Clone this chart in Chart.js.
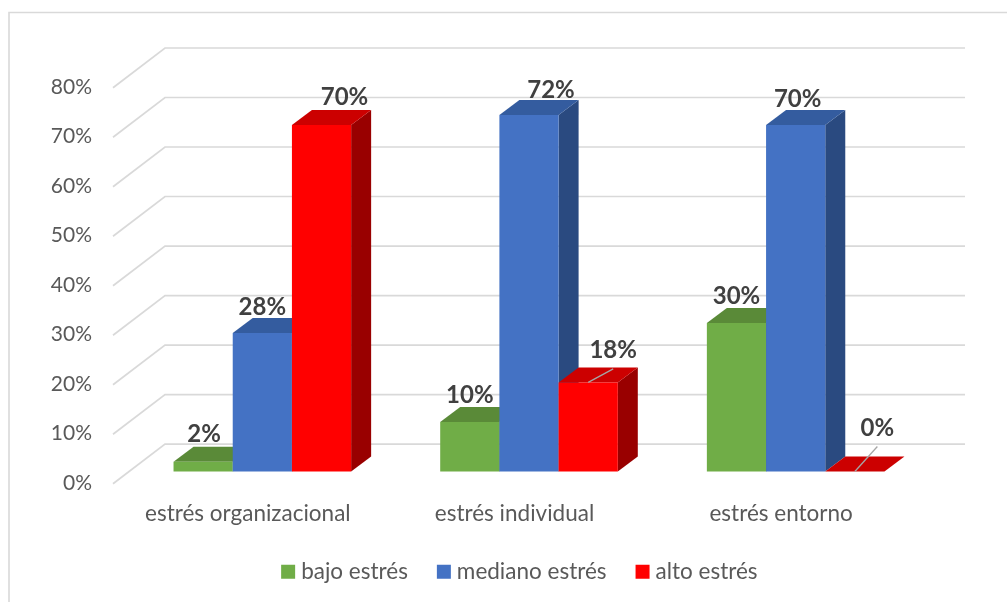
<!DOCTYPE html>
<html lang="es">
<head>
<meta charset="utf-8">
<title>Niveles de estrés</title>
<style>
  html, body { margin: 0; padding: 0; background: #ffffff; }
  canvas { display: block; }
</style>
<script src="https://cdn.jsdelivr.net/npm/chart.js@4/dist/chart.umd.min.js"></script>
</head>
<body>
<canvas id="chart" width="1007" height="602"></canvas>
<script>
const categories = ["estrés organizacional", "estrés individual", "estrés entorno"];
const seriesNames = ["bajo estrés", "mediano estrés", "alto estrés"];
const bajoEstres = [2, 10, 30];
const medianoEstres = [28, 72, 70];
const altoEstres = [70, 18, 0];
const tickLabels = ["0%", "10%", "20%", "30%", "40%", "50%", "60%", "70%", "80%"];

// Face colours for each series: front, top, side.
const faces = [
  { front: "#70AD47", top: "#5A8A38", side: "#43682B" },
  { front: "#4472C4", top: "#345C9F", side: "#2A4A80" },
  { front: "#FF0000", top: "#CC0000", side: "#990000" }
];

// Depth of a bar and of the floor, in pixels.
const barDepth = { x: 20, y: 15 };
const wall = { backX: 36, backY: 27.5, frontX: -16, frontY: 12.2 };

// Data label nudges from the centre of each bar's top edge, per series and category.
const labelShift = [
  [[1, -27], [0, -27], [0, -27]],
  [[0, -26], [22, -25], [2, -26]],
  [[23, -28], [25, -32], [22.5, -43]]
];
// Leader lines as [series, category, end x offset, end y offset].
const leaders = [[2, 1, 25, -13.5], [2, 2, 22.5, -25]];

const depthPlugin = {
  id: "depth",
  beforeDraw(chart) {
    const { ctx, width, height } = chart;
    ctx.save();
    ctx.fillStyle = "#ffffff";
    ctx.fillRect(0, 0, width, height);
    ctx.strokeStyle = "#D9D9D9";
    ctx.lineWidth = 1.6;
    ctx.beginPath();
    ctx.moveTo(9, height);
    ctx.lineTo(9, 12.5);
    ctx.lineTo(width, 12.5);
    ctx.stroke();
    ctx.restore();
  },
  // Walls first, then the bars left to right so nearer faces paint over their neighbours.
  beforeDatasetsDraw(chart) {
    const { ctx, chartArea, scales } = chart;
    ctx.save();
    ctx.strokeStyle = "#D9D9D9";
    ctx.lineWidth = 1.7;
    scales.y.ticks.forEach((tick) => {
      const py = scales.y.getPixelForValue(tick.value);
      ctx.beginPath();
      ctx.moveTo(chartArea.left + wall.frontX, py + wall.frontY);
      ctx.lineTo(chartArea.left + wall.backX, py - wall.backY);
      ctx.lineTo(chartArea.right + wall.backX, py - wall.backY);
      ctx.stroke();
    });
    const base = scales.y.getPixelForValue(0);
    chart.data.datasets.forEach((ds, s) => {
      const colour = faces[s];
      chart.getDatasetMeta(s).data.forEach((bar) => {
        const half = bar.width / 2;
        const l = bar.x - half;
        const r = bar.x + half;
        const t = bar.y;
        ctx.fillStyle = colour.side;
        ctx.beginPath();
        ctx.moveTo(r, t);
        ctx.lineTo(r + barDepth.x, t - barDepth.y);
        ctx.lineTo(r + barDepth.x, base - barDepth.y);
        ctx.lineTo(r, base);
        ctx.closePath();
        ctx.fill();
        ctx.fillStyle = colour.top;
        ctx.beginPath();
        ctx.moveTo(l, t);
        ctx.lineTo(l + barDepth.x, t - barDepth.y);
        ctx.lineTo(r + barDepth.x, t - barDepth.y);
        ctx.lineTo(r, t);
        ctx.closePath();
        ctx.fill();
        bar.draw(ctx);
      });
    });
    ctx.restore();
    return false;
  },
  afterDraw(chart) {
    const { ctx } = chart;
    ctx.save();
    ctx.strokeStyle = "#A6A6A6";
    ctx.lineWidth = 1.3;
    leaders.forEach(([s, c, dx, dy]) => {
      const bar = chart.getDatasetMeta(s).data[c];
      ctx.beginPath();
      ctx.moveTo(bar.x, bar.y);
      ctx.lineTo(bar.x + dx, bar.y + dy);
      ctx.stroke();
    });
    ctx.font = "bold 24px Lato";
    ctx.fillStyle = "#404040";
    ctx.textAlign = "center";
    ctx.textBaseline = "middle";
    chart.data.datasets.forEach((ds, s) => {
      chart.getDatasetMeta(s).data.forEach((bar, c) => {
        const [dx, dy] = labelShift[s][c];
        ctx.fillText(ds.data[c] + "%", bar.x + dx, bar.y + dy);
      });
    });
    ctx.restore();
  },
  afterLayout(chart) {
    // The legend sits centred under the floor rather than under the canvas.
    const legend = chart.legend;
    legend.left += 57.5;
    legend.right += 57.5;
    legend.top -= 9;
    legend.bottom -= 9;
  }
};

const seriesValues = [bajoEstres, medianoEstres, altoEstres];

new Chart(document.getElementById("chart"), {
  type: "bar",
  data: {
    labels: categories,
    datasets: seriesNames.map((name, i) => ({
      label: name,
      data: seriesValues[i],
      backgroundColor: faces[i].front,
      borderWidth: 0,
      categoryPercentage: 0.666,
      barPercentage: 1
    }))
  },
  options: {
    responsive: false,
    animation: false,
    devicePixelRatio: 1,
    layout: { padding: { top: 75.5, right: 78, left: 0, bottom: 0 } },
    scales: {
      x: {
        grid: { display: false, drawTicks: false },
        border: { display: false },
        ticks: {
          color: "#595959",
          font: { family: "Lato", size: 22.5 },
          padding: 29,
          labelOffset: -14.5,
          maxRotation: 0
        },
        afterFit(scale) { scale.height = 63.7; }
      },
      y: {
        min: 0,
        max: 80,
        grid: { display: false, drawTicks: false },
        border: { display: false },
        ticks: {
          stepSize: 10,
          color: "#595959",
          font: { family: "Lato", size: 21 },
          padding: 37,
          labelOffset: 11.5,
          callback: (value, index) => tickLabels[index]
        },
        afterFit(scale) { scale.width = 129; }
      }
    },
    plugins: {
      tooltip: { enabled: false },
      legend: {
        position: "bottom",
        labels: {
          color: "#595959",
          font: { family: "Lato", size: 22.5 },
          usePointStyle: true,
          pointStyle: "rect",
          boxWidth: 3.5,
          boxHeight: 14,
          padding: 34.25
        }
      }
    }
  },
  plugins: [depthPlugin]
});
</script>
</body>
</html>
